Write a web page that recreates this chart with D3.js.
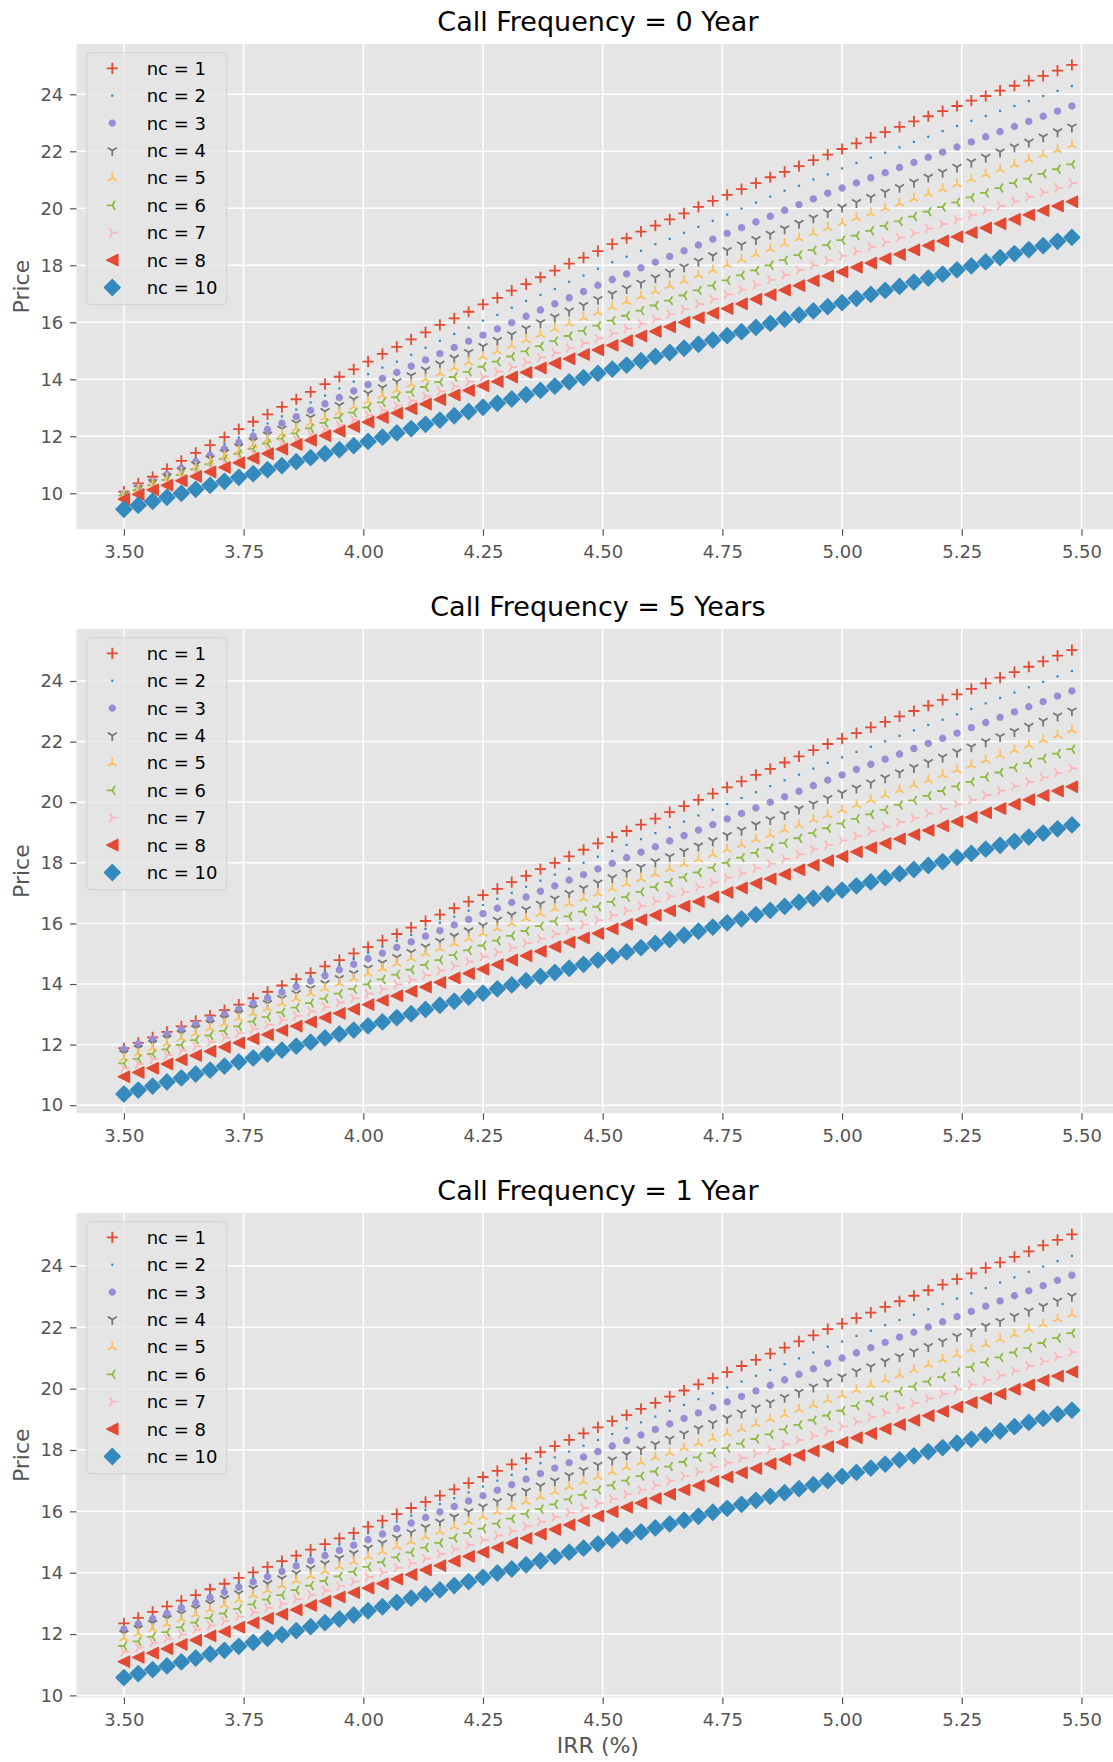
<!DOCTYPE html>
<html><head><meta charset="utf-8">
<script src="https://cdn.jsdelivr.net/npm/d3@7"></script>
<style>body{margin:0;background:#fff;}svg{display:block;}</style>
</head><body><svg id="c" width="1113" height="1762"></svg>
<script>
// ---------------- DATA ----------------
const irr = [3.50,3.53,3.56,3.59,3.62,3.65,3.68,3.71,3.74,3.77,3.80,3.83,3.86,3.89,3.92,3.95,3.98,4.01,4.04,4.07,4.10,4.13,4.16,4.19,4.22,4.25,4.28,4.31,4.34,4.37,4.40,4.43,4.46,4.49,4.52,4.55,4.58,4.61,4.64,4.67,4.70,4.73,4.76,4.79,4.82,4.85,4.88,4.91,4.94,4.97,5.00,5.03,5.06,5.09,5.12,5.15,5.18,5.21,5.24,5.27,5.30,5.33,5.36,5.39,5.42,5.45,5.48];
const seriesLabels = ["nc = 1","nc = 2","nc = 3","nc = 4","nc = 5","nc = 6","nc = 7","nc = 8","nc = 10"];
const panelTitles = ["Call Frequency = 0 Year","Call Frequency = 5 Years","Call Frequency = 1 Year"];
const xTicks = [3.50,3.75,4.00,4.25,4.50,4.75,5.00,5.25,5.50];
const yTicks = [10,12,14,16,18,20,22,24];

// Call Frequency = 0 Year
const y0_nc1 = [10.06,10.35,10.58,10.86,11.14,11.42,11.69,11.97,12.25,12.51,12.77,13.03,13.30,13.56,13.83,14.09,14.35,14.62,14.89,15.14,15.40,15.65,15.91,16.14,16.37,16.63,16.86,17.11,17.34,17.58,17.81,18.06,18.27,18.50,18.74,18.95,19.18,19.39,19.61,19.82,20.05,20.26,20.47,20.67,20.88,21.09,21.28,21.48,21.69,21.88,22.08,22.28,22.48,22.67,22.86,23.05,23.23,23.41,23.59,23.78,23.94,24.13,24.30,24.48,24.65,24.83,25.03];
const y0_nc2 = [10.00,10.25,10.49,10.74,10.98,11.23,11.47,11.72,11.96,12.21,12.45,12.70,12.94,13.19,13.43,13.68,13.92,14.18,14.41,14.62,14.86,15.11,15.35,15.59,15.81,16.06,16.26,16.51,16.75,16.96,17.17,17.42,17.64,17.88,18.11,18.30,18.51,18.74,18.93,19.14,19.35,19.56,19.78,19.99,20.20,20.41,20.62,20.79,21.01,21.19,21.40,21.59,21.78,21.95,22.14,22.33,22.51,22.71,22.89,23.07,23.24,23.42,23.59,23.76,23.94,24.12,24.29];
const y0_nc3 = [9.98,10.21,10.43,10.66,10.88,11.11,11.33,11.56,11.78,12.01,12.24,12.46,12.69,12.91,13.14,13.36,13.59,13.81,14.03,14.24,14.46,14.68,14.90,15.12,15.34,15.55,15.77,15.99,16.21,16.43,16.65,16.86,17.08,17.30,17.50,17.70,17.91,18.11,18.31,18.51,18.71,18.92,19.12,19.32,19.52,19.72,19.93,20.13,20.33,20.53,20.71,20.89,21.07,21.25,21.43,21.61,21.79,21.97,22.15,22.33,22.51,22.69,22.87,23.05,23.23,23.41,23.59];
const y0_nc4 = [9.97,10.18,10.39,10.59,10.80,11.01,11.22,11.43,11.63,11.84,12.05,12.26,12.47,12.67,12.88,13.09,13.30,13.51,13.71,13.92,14.13,14.33,14.54,14.75,14.95,15.16,15.37,15.57,15.78,15.99,16.19,16.40,16.60,16.81,17.00,17.19,17.38,17.57,17.76,17.95,18.15,18.34,18.53,18.72,18.91,19.10,19.29,19.48,19.67,19.86,20.04,20.21,20.39,20.57,20.74,20.92,21.10,21.27,21.45,21.63,21.80,21.98,22.16,22.33,22.51,22.69,22.86];
const y0_nc5 = [9.95,10.14,10.34,10.53,10.72,10.92,11.11,11.30,11.49,11.69,11.88,12.07,12.27,12.46,12.65,12.85,13.04,13.23,13.43,13.62,13.82,14.01,14.21,14.40,14.60,14.79,14.99,15.18,15.38,15.57,15.77,15.96,16.16,16.35,16.54,16.72,16.91,17.09,17.28,17.46,17.65,17.83,18.02,18.20,18.39,18.57,18.76,18.95,19.13,19.32,19.49,19.66,19.83,20.00,20.17,20.34,20.51,20.68,20.85,21.02,21.19,21.36,21.54,21.71,21.88,22.05,22.22];
const y0_nc6 = [9.93,10.11,10.29,10.47,10.65,10.84,11.02,11.20,11.38,11.56,11.74,11.92,12.10,12.28,12.47,12.65,12.83,13.01,13.19,13.37,13.55,13.73,13.90,14.08,14.26,14.44,14.62,14.80,14.98,15.16,15.34,15.52,15.70,15.88,16.06,16.23,16.41,16.59,16.76,16.94,17.12,17.29,17.47,17.65,17.82,18.00,18.18,18.36,18.53,18.71,18.88,19.04,19.21,19.38,19.54,19.71,19.88,20.04,20.21,20.38,20.54,20.71,20.88,21.04,21.21,21.37,21.54];
const y0_nc7 = [9.90,10.07,10.23,10.40,10.57,10.73,10.90,11.07,11.24,11.40,11.57,11.74,11.90,12.07,12.24,12.40,12.57,12.74,12.91,13.08,13.25,13.41,13.58,13.75,13.92,14.09,14.26,14.43,14.60,14.77,14.93,15.10,15.27,15.44,15.61,15.78,15.95,16.12,16.29,16.46,16.64,16.81,16.98,17.15,17.32,17.49,17.66,17.83,18.00,18.17,18.33,18.49,18.65,18.81,18.97,19.13,19.29,19.45,19.61,19.77,19.93,20.08,20.24,20.40,20.56,20.72,20.88];
const y0_nc8 = [9.80,9.96,10.12,10.28,10.44,10.59,10.75,10.91,11.07,11.23,11.39,11.55,11.71,11.86,12.02,12.18,12.34,12.50,12.66,12.81,12.97,13.13,13.29,13.45,13.61,13.77,13.92,14.08,14.24,14.40,14.56,14.72,14.87,15.03,15.19,15.35,15.52,15.68,15.84,16.00,16.16,16.32,16.48,16.65,16.81,16.97,17.13,17.29,17.46,17.62,17.77,17.93,18.08,18.23,18.38,18.54,18.69,18.85,19.00,19.15,19.31,19.46,19.61,19.77,19.92,20.08,20.23];
const y0_nc10 = [9.44,9.58,9.72,9.86,10.00,10.14,10.28,10.42,10.56,10.69,10.83,10.97,11.11,11.25,11.39,11.53,11.67,11.82,11.97,12.12,12.27,12.42,12.57,12.72,12.87,13.02,13.16,13.31,13.46,13.61,13.76,13.91,14.06,14.21,14.36,14.50,14.65,14.80,14.94,15.09,15.23,15.38,15.53,15.67,15.82,15.96,16.11,16.26,16.40,16.55,16.69,16.84,16.98,17.12,17.26,17.41,17.55,17.69,17.84,17.98,18.12,18.27,18.41,18.55,18.69,18.84,18.98];

// Call Frequency = 5 Years
const y5_nc1 = [11.88,12.06,12.24,12.42,12.60,12.78,12.96,13.14,13.32,13.53,13.74,13.95,14.16,14.37,14.58,14.79,15.01,15.22,15.44,15.65,15.86,16.08,16.29,16.50,16.72,16.93,17.14,17.36,17.57,17.79,18.00,18.21,18.43,18.64,18.85,19.05,19.26,19.46,19.67,19.87,20.08,20.28,20.49,20.69,20.90,21.10,21.31,21.51,21.72,21.92,22.10,22.28,22.47,22.65,22.83,23.01,23.19,23.38,23.56,23.74,23.92,24.11,24.29,24.47,24.65,24.84,25.02];
const y5_nc2 = [11.87,12.04,12.21,12.38,12.55,12.72,12.89,13.06,13.23,13.43,13.63,13.83,14.03,14.23,14.43,14.63,14.83,15.03,15.23,15.42,15.62,15.82,16.02,16.22,16.42,16.61,16.81,17.01,17.21,17.41,17.61,17.80,18.00,18.20,18.39,18.59,18.78,18.98,19.17,19.36,19.56,19.75,19.94,20.14,20.33,20.53,20.72,20.91,21.11,21.30,21.48,21.66,21.83,22.01,22.19,22.37,22.55,22.72,22.90,23.08,23.26,23.44,23.62,23.79,23.97,24.15,24.33];
const y5_nc3 = [11.85,12.02,12.18,12.35,12.51,12.68,12.84,13.01,13.17,13.36,13.54,13.73,13.91,14.10,14.28,14.47,14.65,14.84,15.02,15.21,15.39,15.58,15.76,15.95,16.13,16.32,16.50,16.69,16.87,17.06,17.24,17.43,17.61,17.80,17.98,18.17,18.35,18.53,18.72,18.90,19.08,19.26,19.45,19.63,19.81,20.00,20.18,20.36,20.55,20.73,20.90,21.08,21.25,21.42,21.59,21.77,21.94,22.11,22.28,22.46,22.63,22.80,22.98,23.15,23.32,23.50,23.67];
const y5_nc4 = [11.71,11.88,12.04,12.21,12.37,12.54,12.70,12.87,13.03,13.20,13.36,13.53,13.69,13.86,14.02,14.19,14.35,14.53,14.70,14.88,15.05,15.23,15.41,15.58,15.76,15.93,16.11,16.28,16.46,16.64,16.81,16.99,17.16,17.34,17.51,17.69,17.86,18.04,18.21,18.38,18.56,18.73,18.91,19.08,19.26,19.43,19.60,19.78,19.95,20.13,20.30,20.47,20.64,20.81,20.98,21.15,21.32,21.49,21.66,21.83,22.00,22.17,22.34,22.51,22.68,22.85,23.02];
const y5_nc5 = [11.55,11.71,11.88,12.04,12.21,12.37,12.54,12.70,12.87,13.03,13.19,13.36,13.52,13.69,13.85,14.02,14.18,14.35,14.51,14.68,14.84,15.01,15.17,15.34,15.50,15.67,15.83,16.00,16.16,16.33,16.49,16.66,16.82,16.99,17.15,17.31,17.47,17.63,17.80,17.96,18.12,18.28,18.44,18.60,18.77,18.93,19.09,19.25,19.42,19.58,19.74,19.91,20.07,20.24,20.40,20.57,20.73,20.90,21.06,21.22,21.39,21.55,21.72,21.88,22.05,22.21,22.38];
const y5_nc6 = [11.38,11.53,11.69,11.84,11.99,12.15,12.30,12.45,12.60,12.76,12.91,13.06,13.22,13.37,13.52,13.68,13.83,13.99,14.15,14.31,14.47,14.63,14.79,14.95,15.11,15.27,15.43,15.59,15.75,15.91,16.07,16.23,16.39,16.55,16.71,16.87,17.04,17.20,17.36,17.52,17.68,17.84,18.00,18.17,18.33,18.49,18.65,18.81,18.98,19.14,19.29,19.45,19.60,19.75,19.91,20.06,20.21,20.37,20.52,20.67,20.83,20.98,21.14,21.29,21.44,21.60,21.75];
const y5_nc7 = [11.22,11.36,11.51,11.65,11.80,11.94,12.09,12.23,12.38,12.52,12.66,12.81,12.95,13.10,13.24,13.39,13.53,13.68,13.83,13.99,14.14,14.29,14.44,14.59,14.74,14.90,15.05,15.20,15.35,15.50,15.65,15.81,15.96,16.11,16.27,16.42,16.58,16.73,16.89,17.04,17.20,17.35,17.51,17.66,17.82,17.97,18.13,18.28,18.44,18.59,18.74,18.89,19.04,19.19,19.34,19.48,19.63,19.78,19.93,20.08,20.23,20.38,20.53,20.67,20.82,20.97,21.12];
const y5_nc8 = [10.94,11.08,11.22,11.36,11.50,11.64,11.78,11.92,12.06,12.19,12.33,12.47,12.61,12.75,12.89,13.03,13.17,13.32,13.46,13.61,13.76,13.90,14.05,14.20,14.35,14.49,14.64,14.79,14.93,15.08,15.23,15.38,15.52,15.67,15.82,15.97,16.12,16.27,16.42,16.57,16.72,16.87,17.02,17.17,17.32,17.47,17.62,17.77,17.92,18.07,18.21,18.36,18.50,18.64,18.79,18.93,19.07,19.22,19.36,19.50,19.65,19.79,19.93,20.08,20.22,20.37,20.51];
const y5_nc10 = [10.37,10.50,10.63,10.77,10.90,11.03,11.16,11.29,11.43,11.56,11.69,11.82,11.95,12.08,12.22,12.35,12.48,12.62,12.75,12.89,13.02,13.16,13.30,13.43,13.57,13.70,13.84,13.97,14.11,14.25,14.38,14.52,14.65,14.79,14.93,15.06,15.20,15.34,15.47,15.61,15.74,15.88,16.02,16.15,16.29,16.43,16.56,16.70,16.83,16.97,17.10,17.24,17.37,17.51,17.64,17.78,17.91,18.04,18.18,18.31,18.45,18.58,18.71,18.85,18.98,19.12,19.25];

// Call Frequency = 1 Year
const y1_nc1 = [12.35,12.53,12.72,12.90,13.09,13.27,13.46,13.64,13.83,14.01,14.19,14.38,14.56,14.75,14.93,15.12,15.30,15.50,15.70,15.91,16.11,16.31,16.51,16.72,16.92,17.12,17.32,17.53,17.73,17.93,18.13,18.33,18.54,18.74,18.94,19.14,19.34,19.54,19.74,19.94,20.14,20.34,20.54,20.74,20.94,21.14,21.34,21.54,21.74,21.94,22.12,22.30,22.48,22.67,22.85,23.03,23.21,23.39,23.57,23.76,23.94,24.12,24.30,24.48,24.67,24.85,25.03];
const y1_nc2 = [12.22,12.40,12.58,12.76,12.94,13.12,13.30,13.48,13.66,13.84,14.02,14.20,14.38,14.56,14.74,14.92,15.10,15.29,15.48,15.67,15.86,16.05,16.24,16.43,16.62,16.81,17.00,17.19,17.38,17.57,17.76,17.95,18.14,18.33,18.52,18.71,18.90,19.09,19.28,19.47,19.66,19.85,20.04,20.23,20.42,20.61,20.80,20.99,21.18,21.37,21.54,21.72,21.89,22.07,22.24,22.41,22.59,22.76,22.94,23.11,23.28,23.46,23.63,23.81,23.98,24.16,24.33];
const y1_nc3 = [12.16,12.33,12.50,12.67,12.85,13.02,13.19,13.36,13.53,13.70,13.87,14.04,14.22,14.39,14.56,14.73,14.90,15.08,15.26,15.44,15.62,15.80,15.98,16.16,16.34,16.51,16.69,16.87,17.05,17.23,17.41,17.59,17.77,17.95,18.13,18.31,18.49,18.67,18.85,19.03,19.21,19.39,19.57,19.75,19.93,20.11,20.29,20.47,20.65,20.83,21.00,21.17,21.34,21.51,21.68,21.84,22.01,22.18,22.35,22.52,22.69,22.86,23.03,23.19,23.36,23.53,23.70];
const y1_nc4 = [12.02,12.18,12.35,12.51,12.67,12.84,13.00,13.16,13.32,13.49,13.65,13.81,13.98,14.14,14.30,14.47,14.63,14.80,14.97,15.14,15.31,15.48,15.65,15.82,15.99,16.15,16.32,16.49,16.66,16.83,17.00,17.17,17.34,17.51,17.68,17.85,18.02,18.19,18.36,18.53,18.70,18.87,19.04,19.21,19.38,19.55,19.72,19.89,20.06,20.23,20.39,20.56,20.72,20.89,21.05,21.21,21.38,21.54,21.71,21.87,22.04,22.20,22.36,22.53,22.69,22.86,23.02];
const y1_nc5 = [11.86,12.02,12.17,12.33,12.49,12.64,12.80,12.95,13.11,13.27,13.42,13.58,13.74,13.89,14.05,14.20,14.36,14.52,14.69,14.85,15.01,15.17,15.34,15.50,15.66,15.83,15.99,16.15,16.32,16.48,16.64,16.80,16.97,17.13,17.29,17.44,17.60,17.76,17.91,18.07,18.22,18.38,18.54,18.69,18.85,19.01,19.16,19.32,19.47,19.63,19.79,19.96,20.12,20.29,20.45,20.62,20.78,20.95,21.11,21.28,21.44,21.61,21.77,21.94,22.10,22.27,22.43];
const y1_nc6 = [11.61,11.76,11.91,12.06,12.22,12.37,12.52,12.67,12.82,12.97,13.12,13.27,13.43,13.58,13.73,13.88,14.03,14.19,14.34,14.50,14.66,14.82,14.97,15.13,15.29,15.44,15.60,15.76,15.92,16.07,16.23,16.39,16.54,16.70,16.85,17.00,17.15,17.30,17.46,17.61,17.76,17.91,18.06,18.21,18.36,18.51,18.67,18.82,18.97,19.12,19.28,19.44,19.59,19.75,19.91,20.07,20.23,20.38,20.54,20.70,20.86,21.02,21.18,21.33,21.49,21.65,21.81];
const y1_nc7 = [11.42,11.56,11.71,11.85,11.99,12.14,12.28,12.42,12.57,12.71,12.85,12.99,13.14,13.28,13.42,13.57,13.71,13.86,14.01,14.16,14.31,14.46,14.61,14.76,14.91,15.06,15.21,15.36,15.51,15.66,15.81,15.96,16.11,16.26,16.41,16.56,16.70,16.85,17.00,17.15,17.29,17.44,17.59,17.74,17.88,18.03,18.18,18.33,18.47,18.62,18.77,18.92,19.07,19.22,19.37,19.53,19.68,19.83,19.98,20.13,20.28,20.43,20.58,20.74,20.89,21.04,21.19];
const y1_nc8 = [11.10,11.24,11.38,11.52,11.66,11.80,11.94,12.08,12.22,12.37,12.51,12.65,12.79,12.93,13.07,13.21,13.35,13.50,13.64,13.79,13.94,14.09,14.23,14.38,14.53,14.67,14.82,14.97,15.12,15.26,15.41,15.56,15.70,15.85,15.99,16.13,16.27,16.42,16.56,16.70,16.84,16.98,17.12,17.26,17.40,17.55,17.69,17.83,17.97,18.11,18.25,18.40,18.54,18.69,18.83,18.97,19.12,19.26,19.40,19.55,19.69,19.83,19.98,20.12,20.27,20.41,20.55];
const y1_nc10 = [10.58,10.71,10.84,10.96,11.09,11.22,11.35,11.47,11.60,11.73,11.86,11.98,12.11,12.24,12.37,12.49,12.62,12.76,12.89,13.03,13.17,13.30,13.44,13.58,13.71,13.85,13.99,14.12,14.26,14.39,14.53,14.67,14.80,14.94,15.07,15.20,15.33,15.46,15.59,15.71,15.84,15.97,16.10,16.23,16.36,16.49,16.61,16.74,16.87,17.00,17.14,17.27,17.41,17.54,17.68,17.81,17.95,18.08,18.22,18.35,18.49,18.62,18.76,18.90,19.03,19.17,19.30];

// ---------------- STYLE / LAYOUT ----------------
const colors = ["#E24A33","#348ABD","#988ED5","#777777","#FBC15E","#8EBA42","#FFB5B8","#E24A33","#348ABD"];
const markers = ["plus","pixel","point","tri_down","tri_up","tri_left","tri_right","triangle_left","diamond"];
const FONT = "DejaVu Sans, sans-serif";

const panels = [
  {title: panelTitles[0], series: [y0_nc1,y0_nc2,y0_nc3,y0_nc4,y0_nc5,y0_nc6,y0_nc7,y0_nc8,y0_nc10], top: 44,   bottom: 529.3,  ydom: [8.737, 25.765]},
  {title: panelTitles[1], series: [y5_nc1,y5_nc2,y5_nc3,y5_nc4,y5_nc5,y5_nc6,y5_nc7,y5_nc8,y5_nc10], top: 629,  bottom: 1113.3, ydom: [9.733, 25.716]},
  {title: panelTitles[2], series: [y1_nc1,y1_nc2,y1_nc3,y1_nc4,y1_nc5,y1_nc6,y1_nc7,y1_nc8,y1_nc10], top: 1213, bottom: 1697.5, ydom: [9.931, 25.728]}
];

const svg = d3.select("#c");
svg.append("rect").attr("width",1113).attr("height",1762).attr("fill","#fff");

const x = d3.scaleLinear().domain([3.401, 5.579]).range([76.5, 1119.3]);
const [xL, xR] = x.range();

const ms = 11.2, h = ms/2;
function shapePath(type){
  switch(type){
    case "plus": return `M${-h},0H${h}M0,${-h}V${h}`;
    case "pixel": return "M-1.1,-1.1h2.2v2.2h-2.2Z";
    case "point": { const r = 2.8; return `M${r},0A${r},${r} 0 1,1 ${-r},0A${r},${r} 0 1,1 ${r},0Z`; }
    case "tri_down": return `M0,0L0,${h}M0,0L${0.8*h},${-0.5*h}M0,0L${-0.8*h},${-0.5*h}`;
    case "tri_up": return `M0,0L0,${-h}M0,0L${0.8*h},${0.5*h}M0,0L${-0.8*h},${0.5*h}`;
    case "tri_left": return `M0,0L${-h},0M0,0L${0.5*h},${-0.8*h}M0,0L${0.5*h},${0.8*h}`;
    case "tri_right": return `M0,0L${h},0M0,0L${-0.5*h},${-0.8*h}M0,0L${-0.5*h},${0.8*h}`;
    case "triangle_left": return `M${-h},0L${h},${-h}L${h},${h}Z`;
    case "diamond": { const d = 0.707*ms; return `M0,${-d}L${d},0L0,${d}L${-d},0Z`; }
  }
}
function styleMarker(sel, type, color){
  const lineTypes = ["plus","tri_down","tri_up","tri_left","tri_right"];
  if (lineTypes.includes(type)) {
    sel.attr("fill","none").attr("stroke",color).attr("stroke-width",1.8);
  } else if (type === "pixel") {
    sel.attr("fill",color).attr("stroke","none");
  } else if (type === "point") {
    sel.attr("fill",color).attr("stroke",color).attr("stroke-width",1.8);
  } else {
    sel.attr("fill",color).attr("stroke",color).attr("stroke-width",1.4).attr("stroke-linejoin","round");
  }
  return sel;
}

panels.forEach((p) => {
  const y = d3.scaleLinear().domain(p.ydom).range([p.bottom, p.top]);
  const g = svg.append("g");

  // background
  g.append("rect").attr("x",xL).attr("y",p.top).attr("width",xR-xL).attr("height",p.bottom-p.top).attr("fill","#E5E5E5");

  // grid
  g.append("g").selectAll("line").data(xTicks).join("line")
    .attr("x1",d=>x(d)).attr("x2",d=>x(d)).attr("y1",p.top).attr("y2",p.bottom)
    .attr("stroke","#fff").attr("stroke-width",1.5);
  g.append("g").selectAll("line").data(yTicks).join("line")
    .attr("x1",xL).attr("x2",xR).attr("y1",d=>y(d)).attr("y2",d=>y(d))
    .attr("stroke","#fff").attr("stroke-width",1.5);

  // axes
  const ax = g.append("g").attr("transform",`translate(0,${p.bottom})`)
    .call(d3.axisBottom(x).tickValues(xTicks).tickFormat(d3.format(".2f")).tickSize(6.5).tickPadding(9.5));
  const ay = g.append("g").attr("transform",`translate(${xL},0)`)
    .call(d3.axisLeft(y).tickValues(yTicks).tickFormat(d3.format("d")).tickSize(6.5).tickPadding(6.7));
  [ax, ay].forEach(a => {
    a.select(".domain").remove();
    a.attr("font-family",FONT).attr("font-size",18);
    a.selectAll(".tick line").attr("stroke","#555555").attr("stroke-width",1.2);
    a.selectAll(".tick text").attr("fill","#555555");
  });

  // series
  p.series.forEach((vals, si) => {
    const sg = g.append("g");
    const sel = sg.selectAll("path").data(vals).join("path")
      .attr("d", shapePath(markers[si]))
      .attr("transform",(d,i)=>`translate(${x(irr[i])},${y(d)})`);
    styleMarker(sel, markers[si], colors[si]);
  });

  // title
  g.append("text").attr("x",(xL+xR)/2).attr("y",p.top-13).attr("text-anchor","middle")
    .attr("font-family",FONT).attr("font-size",27).attr("fill","#000").text(p.title);

  // y label
  g.append("text").attr("transform",`translate(29,${(p.top+p.bottom)/2}) rotate(-90)`)
    .attr("text-anchor","middle").attr("font-family",FONT).attr("font-size",22).attr("fill","#555555").text("Price");

  // legend
  const lg = g.append("g");
  lg.append("rect").attr("x",86.7).attr("y",p.top+8.7).attr("width",140).attr("height",252).attr("rx",4)
    .attr("fill","#E5E5E5").attr("fill-opacity",0.8).attr("stroke","#CCCCCC").attr("stroke-opacity",0.8).attr("stroke-width",1);
  const rows = lg.selectAll("g.row").data(seriesLabels).join("g").attr("class","row")
    .attr("transform",(d,i)=>`translate(0,${p.top+24.3+27.4*i})`);
  rows.each(function(d,i){
    const r = d3.select(this);
    const m = r.append("path").attr("d",shapePath(markers[i])).attr("transform","translate(112.3,0)");
    styleMarker(m, markers[i], colors[i]);
    r.append("text").attr("x",146.7).attr("y",6.5).attr("font-family",FONT).attr("font-size",18).attr("fill","#000").text(d);
  });
});

// x label
svg.append("text").attr("x",(xL+xR)/2).attr("y",1753).attr("text-anchor","middle")
  .attr("font-family",FONT).attr("font-size",22).attr("fill","#555555").text("IRR (%)");
</script>
</body></html>
